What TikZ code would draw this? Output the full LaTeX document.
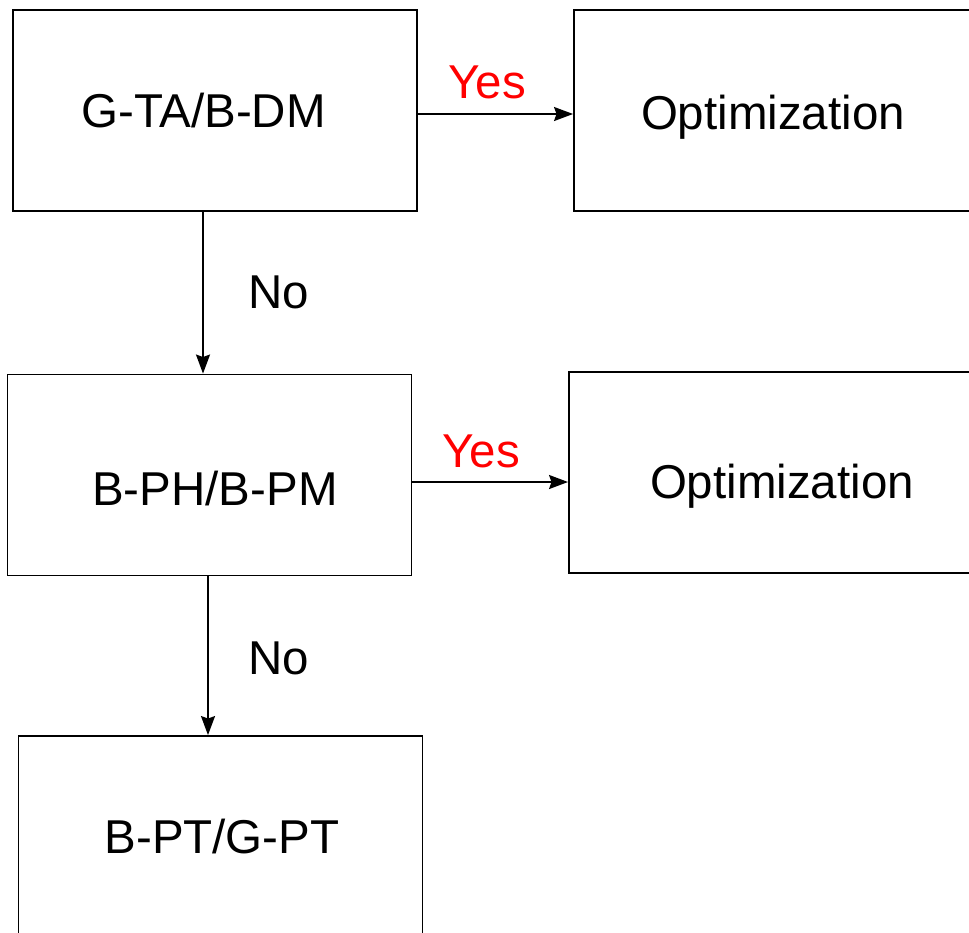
\documentclass[tikz,border=0pt]{standalone}
\usepackage{fontspec}
\setmainfont{Liberation Sans}
\usetikzlibrary{arrows.meta}
\begin{document}
\begin{tikzpicture}[x=1pt,y=-1pt,
  box/.style={draw=black, line width=1.9pt, minimum width=404pt, minimum height=201pt, inner sep=0pt},
  lbl/.style={font=\fontsize{47.5}{50}\selectfont},
  yes/.style={font=\fontsize{47.5}{50}\selectfont, text=red, inner sep=0pt},
  no/.style={font=\fontsize{47.5}{50}\selectfont, inner sep=0pt},
  arr/.style={line width=1.8pt, -{Stealth[length=19pt,width=14pt,inset=2.5pt]}}]
\useasboundingbox (0,0) rectangle (969,932);
\clip (0,0) rectangle (969,932);
\node[box, label={[lbl,xshift=-11.5pt]center:G-TA/B-DM}] (b1) at (215,110.5) {};
\node[box, minimum width=398pt, label={[lbl,yshift=-7pt]center:Optimization}] (b2) at (773,110.5) {};
\node[box, label={[lbl,xshift=5.5pt,yshift=-14pt]center:B-PH/B-PM}] (b3) at (209.5,475) {};
\node[box, minimum width=403pt, label={[lbl,xshift=11.5pt,yshift=-14pt]center:Optimization}] (b4) at (770.5,472.5) {};
\node[box, label={[lbl,xshift=1.5pt]center:B-PT/G-PT}] (b5) at (220.5,836.5) {};
\draw[arr] ([yshift=-3.5pt]b1.east) -- ([yshift=-3.5pt]b1.east -| b2.west);
\draw[arr] ([xshift=-12pt]b1.south) -- ([xshift=-12pt]b1.south |- b3.north);
\draw[arr] ([yshift=-7pt]b3.east) -- ([yshift=-7pt]b3.east -| b4.west);
\draw[arr] ([xshift=-1.5pt]b3.south) -- ([xshift=-1.5pt]b3.south |- b5.north);
\node[yes] (y1) at (487,82) {Yes};
\node[yes] (y2) at (481,451) {Yes};
\node[no] (n1) at (279,292) {No};
\node[no] (n2) at (279,658) {No};
\end{tikzpicture}
\end{document}
